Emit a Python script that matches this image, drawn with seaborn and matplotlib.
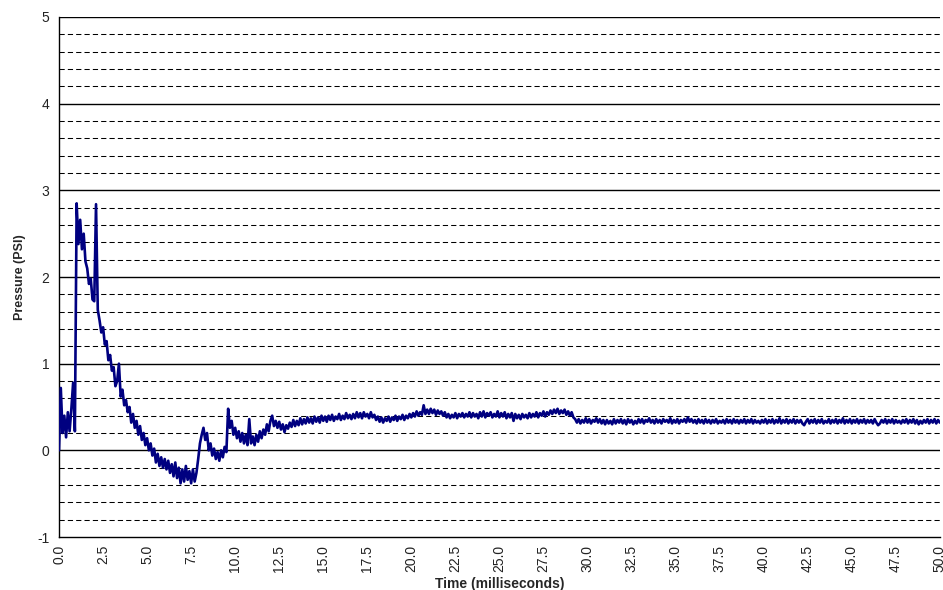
import numpy as np
import pandas as pd
import matplotlib
matplotlib.use("Agg")
import matplotlib.pyplot as plt
from matplotlib.ticker import FormatStrFormatter
import seaborn as sns

# Pressure trace sampled every 0.1 ms (one row per millisecond)
sample_step_ms = 0.1
pressure_psi = [
    0.00, 0.72, 0.20, 0.40, 0.15, 0.44, 0.22, 0.48, 0.78, 0.22,   # 0
    2.85, 2.38, 2.66, 2.32, 2.50, 2.18, 2.10, 1.92, 1.98, 1.74,   # 1
    1.72, 2.84, 1.62, 1.50, 1.36, 1.42, 1.22, 1.26, 1.04, 1.10,   # 2
    0.92, 0.96, 0.74, 0.80, 1.00, 0.62, 0.70, 0.52, 0.58, 0.44,   # 3
    0.50, 0.32, 0.42, 0.26, 0.34, 0.18, 0.28, 0.12, 0.20, 0.06,   # 4
    0.14, 0.00, 0.08, -0.06, 0.02, -0.14, -0.04, -0.18, -0.08, -0.20,  # 5
    -0.10, -0.22, -0.12, -0.26, -0.16, -0.30, -0.14, -0.32, -0.20, -0.38,  # 6
    -0.22, -0.36, -0.18, -0.34, -0.24, -0.38, -0.22, -0.36, -0.26, -0.10,  # 7
    0.08, 0.18, 0.26, 0.12, 0.20, 0.00, 0.08, -0.06, 0.02, -0.10,  # 8
    -0.02, -0.12, 0.00, -0.08, 0.04, -0.02, 0.48, 0.26, 0.34, 0.18,  # 9
    0.26, 0.14, 0.22, 0.10, 0.20, 0.08, 0.18, 0.06, 0.36, 0.08,   # 10
    0.16, 0.06, 0.18, 0.10, 0.22, 0.14, 0.24, 0.18, 0.30, 0.22,   # 11
    0.34, 0.40, 0.28, 0.34, 0.26, 0.33, 0.24, 0.30, 0.21, 0.29,   # 12
    0.25, 0.32, 0.27, 0.35, 0.28, 0.34, 0.29, 0.37, 0.30, 0.36,   # 13
    0.31, 0.38, 0.32, 0.37, 0.31, 0.39, 0.33, 0.38, 0.32, 0.40,   # 14
    0.34, 0.39, 0.33, 0.40, 0.35, 0.41, 0.34, 0.39, 0.36, 0.42,   # 15
    0.35, 0.40, 0.36, 0.43, 0.37, 0.41, 0.36, 0.42, 0.37, 0.44,   # 16
    0.38, 0.43, 0.37, 0.44, 0.39, 0.42, 0.37, 0.44, 0.38, 0.41,   # 17
    0.35, 0.39, 0.33, 0.38, 0.32, 0.37, 0.34, 0.39, 0.33, 0.38,   # 18
    0.35, 0.40, 0.34, 0.39, 0.36, 0.41, 0.35, 0.40, 0.37, 0.42,   # 19
    0.38, 0.43, 0.39, 0.45, 0.40, 0.44, 0.41, 0.52, 0.42, 0.47,   # 20
    0.42, 0.48, 0.43, 0.47, 0.41, 0.46, 0.42, 0.45, 0.40, 0.44,   # 21
    0.38, 0.42, 0.37, 0.41, 0.38, 0.43, 0.37, 0.42, 0.39, 0.43,   # 22
    0.38, 0.42, 0.39, 0.44, 0.38, 0.43, 0.39, 0.42, 0.37, 0.44,   # 23
    0.39, 0.45, 0.38, 0.43, 0.40, 0.44, 0.38, 0.42, 0.39, 0.45,   # 24
    0.38, 0.43, 0.39, 0.44, 0.37, 0.42, 0.38, 0.43, 0.34, 0.42,   # 25
    0.37, 0.41, 0.36, 0.42, 0.38, 0.41, 0.37, 0.43, 0.38, 0.42,   # 26
    0.39, 0.44, 0.38, 0.43, 0.40, 0.45, 0.39, 0.44, 0.41, 0.46,   # 27
    0.42, 0.47, 0.43, 0.48, 0.42, 0.46, 0.43, 0.47, 0.41, 0.45,   # 28
    0.40, 0.44, 0.38, 0.36, 0.32, 0.36, 0.31, 0.35, 0.32, 0.37,   # 29
    0.32, 0.36, 0.31, 0.35, 0.33, 0.37, 0.32, 0.36, 0.31, 0.35,   # 30
    0.30, 0.35, 0.31, 0.34, 0.30, 0.36, 0.31, 0.35, 0.32, 0.36,   # 31
    0.31, 0.35, 0.30, 0.36, 0.32, 0.35, 0.30, 0.34, 0.31, 0.36,   # 32
    0.32, 0.36, 0.31, 0.35, 0.33, 0.37, 0.32, 0.35, 0.31, 0.36,   # 33
    0.32, 0.35, 0.31, 0.36, 0.33, 0.35, 0.32, 0.37, 0.31, 0.35,   # 34
    0.32, 0.36, 0.31, 0.35, 0.33, 0.36, 0.32, 0.38, 0.33, 0.36,   # 35
    0.32, 0.35, 0.31, 0.36, 0.32, 0.35, 0.31, 0.36, 0.32, 0.35,   # 36
    0.31, 0.35, 0.32, 0.36, 0.31, 0.34, 0.32, 0.35, 0.31, 0.36,   # 37
    0.32, 0.35, 0.31, 0.36, 0.32, 0.35, 0.31, 0.35, 0.32, 0.36,   # 38
    0.31, 0.35, 0.32, 0.36, 0.31, 0.35, 0.32, 0.34, 0.31, 0.35,   # 39
    0.32, 0.36, 0.31, 0.35, 0.32, 0.36, 0.31, 0.35, 0.32, 0.37,   # 40
    0.31, 0.35, 0.32, 0.36, 0.31, 0.35, 0.32, 0.36, 0.31, 0.35,   # 41
    0.32, 0.35, 0.31, 0.29, 0.33, 0.36, 0.31, 0.35, 0.32, 0.36,   # 42
    0.31, 0.35, 0.32, 0.36, 0.31, 0.34, 0.32, 0.36, 0.31, 0.35,   # 43
    0.32, 0.36, 0.31, 0.35, 0.32, 0.37, 0.31, 0.35, 0.32, 0.36,   # 44
    0.31, 0.35, 0.32, 0.36, 0.31, 0.35, 0.32, 0.36, 0.31, 0.35,   # 45
    0.32, 0.35, 0.31, 0.36, 0.32, 0.29, 0.31, 0.35, 0.32, 0.36,   # 46
    0.31, 0.35, 0.32, 0.36, 0.31, 0.35, 0.32, 0.34, 0.31, 0.35,   # 47
    0.32, 0.36, 0.31, 0.35, 0.32, 0.36, 0.31, 0.35, 0.30, 0.34,   # 48
    0.31, 0.35, 0.32, 0.36, 0.31, 0.35, 0.32, 0.36, 0.31, 0.35,   # 49
    0.32,                                                         # 50
]
time_ms = np.round(np.arange(len(pressure_psi)) * sample_step_ms, 1)

x_ticks = np.arange(0, 50.01, 2.5)
y_major = [-1, 0, 1, 2, 3, 4, 5]

df = pd.DataFrame({"time": time_ms, "pressure": pressure_psi})

sns.set_style("white")
plt.rcParams["font.family"] = ["Liberation Sans", "DejaVu Sans"]
plt.rcParams["axes.unicode_minus"] = False

fig = plt.figure(figsize=(9.43, 5.90), dpi=100)
ax = fig.add_axes([0.0626, 0.0898, 0.934, 0.8814])

# Minor dashed grid every 0.2 PSI, solid lines on whole PSI values
for v in np.arange(-0.8, 5.0, 0.2):
    if abs(v - round(v)) > 1e-6:
        ax.axhline(v, color="black", lw=0.75, linestyle=(0, (5, 3)), zorder=1)
for v in y_major[1:]:
    ax.axhline(v, color="black", lw=1.0, zorder=1)

sns.lineplot(data=df, x="time", y="pressure", ax=ax, color="#000080",
             linewidth=1.9, estimator=None, zorder=3)

ax.set_xlim(0, 50)
ax.set_ylim(-1, 5)
ax.set_xticks(x_ticks)
ax.xaxis.set_major_formatter(FormatStrFormatter("%.1f"))
ax.set_yticks(y_major)
ax.tick_params(axis="x", direction="inout", length=7, width=1, color="black",
               labelsize=10, labelrotation=90, pad=2, labelcolor="#222222")
ax.tick_params(axis="y", direction="out", length=4, width=1, color="black",
               labelsize=10, pad=3, labelcolor="#222222")

for side in ["top", "right"]:
    ax.spines[side].set_visible(False)
for side in ["left", "bottom"]:
    ax.spines[side].set_visible(True)
    ax.spines[side].set_color("black")
    ax.spines[side].set_linewidth(1.0)

ax.set_xlabel("Time (milliseconds)", fontsize=10, fontweight="bold", labelpad=4)
ax.set_ylabel("Pressure (PSI)", fontsize=9, fontweight="bold", labelpad=8)

fig.savefig("out.png", dpi=100)
